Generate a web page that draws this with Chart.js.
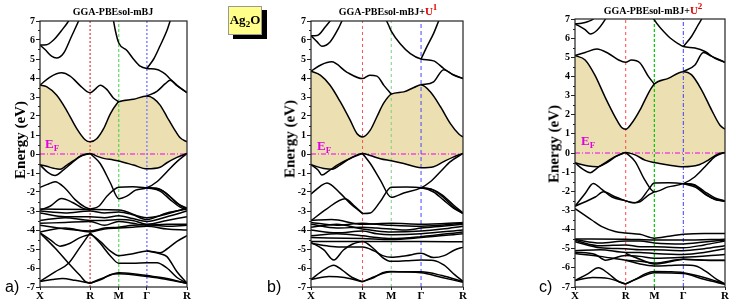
<!DOCTYPE html>
<html>
<head>
<meta charset="utf-8">
<script src="https://cdn.jsdelivr.net/npm/chart.js@4.4.1/dist/chart.umd.min.js"></script>
<style>
  body { margin: 0; background: #fff; width: 736px; height: 306px; position: relative; overflow: hidden; font-family: "Liberation Serif", serif; }
  canvas { position: absolute; left: 0; top: 0; }
  .title { position: absolute; font-weight: bold; font-size: 10px; white-space: nowrap; transform: translateX(-50%); }
  .title .red { color: #e00000; font-size: 11px; }
  .title sup { font-size: 9px; vertical-align: 5px; line-height: 0; }
  .ylab { position: absolute; font-weight: bold; font-size: 15px; white-space: nowrap; transform: translate(-50%, -50%) rotate(-90deg); }
  .ef { position: absolute; color: #e000e0; font-weight: bold; font-size: 13px; }
  .ef sub { font-size: 9px; vertical-align: -3px; line-height: 0; }
  .letter { position: absolute; font-family: "Liberation Sans", sans-serif; font-size: 16px; }
  .box { position: absolute; left: 228px; top: 6px; width: 32px; height: 27px; background: #ffff8a; border: 1px solid #999;
         box-shadow: 5px 4px 0 #000; font-weight: bold; font-size: 13px; text-align: center; line-height: 26px; }
  .box sub { font-size: 9px; vertical-align: -3px; line-height: 0; }
</style>
</head>
<body>
<canvas id="chartA" width="736" height="306"></canvas>
<canvas id="chartB" width="736" height="306"></canvas>
<canvas id="chartC" width="736" height="306"></canvas>

<div class="box">Ag<sub>2</sub>O</div>
<div class="title" style="left:113px;top:6px">GGA-PBEsol-mBJ</div>
<div class="title" style="left:388px;top:5px">GGA-PBEsol-mBJ+<span class="red">U<sup>1</sup></span></div>
<div class="title" style="left:653px;top:4px">GGA-PBEsol-mBJ+<span class="red">U<sup>2</sup></span></div>
<div class="ylab" style="left:20px;top:140px">Energy (eV)</div>
<div class="ylab" style="left:290px;top:139px">Energy (eV)</div>
<div class="ylab" style="left:554px;top:144px">Energy (eV)</div>
<div class="ef" style="left:45px;top:136px">E<sub>F</sub></div>
<div class="ef" style="left:317px;top:138px">E<sub>F</sub></div>
<div class="ef" style="left:581px;top:133px">E<sub>F</sub></div>
<div class="letter" style="left:5px;top:278px">a)</div>
<div class="letter" style="left:267px;top:278px">b)</div>
<div class="letter" style="left:539px;top:278px">c)</div>

<script>
// high-symmetry path labels
const kLabels = ["X", "R", "M", "\u0393", "R"];

// k positions of X, R, M, Γ, R in each panel (fraction of path)
const kA = [0, 0.341, 0.536, 0.727, 1];
const kB = [0, 0.339, 0.528, 0.724, 1];
const kC = [0, 0.338, 0.529, 0.722, 1];

// band points: [segment position (0=X,1=R,2=M,3=Γ,4=R), energy eV]
// ---------- panel a : GGA-PBEsol-mBJ ----------
const condA = [[0,3.63],[0.13,3.55],[0.33,3.1],[0.53,2.3],[0.73,1.35],[0.9,0.75],[1,0.64],[1.23,0.8],[1.47,1.33],[1.7,2.1],[1.93,2.65],[2,2.74],[2.52,2.88],[3,3.05],[3.17,2.92],[3.33,2.57],[3.5,1.96],[3.67,1.35],[3.83,0.85],[4,0.64]];
const valA = [[0,-0.57],[0.13,-0.65],[0.27,-0.75],[0.4,-0.8],[0.53,-0.6],[0.67,-0.35],[0.83,-0.08],[1,0.03],[1.23,-0.11],[1.47,-0.23],[1.81,-0.31],[2,-0.37],[2.52,-0.58],[3,-0.78],[3.33,-0.7],[3.5,-0.46],[3.75,-0.18],[4,0.03]];
const bandsA = [
  [[0,3.63],[0.2,4.05],[0.43,4.27],[0.6,4.1],[0.8,3.6],[0.93,3.3],[1,3.23],[1.17,3.4],[1.35,3.62],[1.58,3.4],[1.81,2.95],[2,2.74]],
  [[1.75,7.6],[1.88,6.5],[2,5.84],[2.29,5.45],[2.52,5.0],[2.76,4.62],[3,4.5],[3.25,4.45],[3.46,4.2],[3.58,3.95],[3.79,3.55],[4,3.23]],
  [[3,3.05],[3.25,3.3],[3.46,3.7],[3.58,3.88],[3.75,3.6],[4,3.23]],
  [[3,4.5],[3.17,5.0],[3.33,5.7],[3.5,6.5],[3.58,7],[3.67,7.5]],
  [[0,5.74],[0.13,5.75],[0.27,6.0],[0.43,6.5],[0.57,7],[0.65,7.4]],
  [[0,5.74],[0.1,5.5],[0.23,5.15],[0.33,5.05],[0.47,5.3],[0.63,6.2],[0.77,7],[0.85,7.5]],
  [[0,-0.57],[0.15,-0.95],[0.3,-1.13],[0.45,-0.88],[0.6,-0.55],[0.8,-0.14],[1,0.03]],
  [[1,0.03],[1.35,-0.5],[1.7,-1.5],[2,-2.35],[2.3,-2.2],[2.6,-1.9],[3,-1.78],[3.25,-1.46],[3.5,-0.93],[3.75,-0.4],[4,0.03]],
  [[1,-2.9],[1.3,-2.75],[1.6,-2.2],[2,-1.75],[2.5,-1.72],[3,-1.78],[3.33,-1.87],[3.58,-2.25],[3.83,-2.7],[4,-2.9]],
  [[3,-1.78],[3.33,-1.95],[3.58,-2.4],[3.83,-2.8],[4,-2.95]],
  [[3,-1.78],[3.25,-1.8],[3.5,-2.1],[3.75,-2.6],[4,-2.85]],
  [[0,-1.76],[0.15,-1.6],[0.3,-1.46],[0.5,-1.8],[0.7,-2.4],[0.9,-2.8],[1,-2.9]],
  [[0,-2.95],[0.2,-2.75],[0.43,-2.34],[0.65,-2.55],[0.85,-2.85],[1,-2.95]],
  [[0,-2.9],[1,-2.92],[2,-2.95],[3,-3.35],[4,-2.85]],
  [[0,-3.0],[0.5,-3.1],[1,-3.0],[1.5,-3.1],[2,-3.05],[2.5,-3.2],[3,-3.45],[3.5,-3.1],[4,-2.9]],
  [[0,-3.1],[0.5,-3.3],[1,-3.3],[1.5,-3.35],[2,-3.25],[2.5,-3.4],[3,-3.55],[3.5,-3.3],[4,-3.0]],
  [[0,-3.5],[0.5,-3.35],[1,-3.5],[1.5,-3.5],[2,-3.45],[2.5,-3.5],[3,-3.7],[3.5,-3.5],[4,-3.3]],
  [[0,-3.65],[0.5,-3.6],[1,-3.55],[1.5,-3.75],[2,-3.55],[2.5,-3.65],[3,-3.75],[3.5,-3.7],[4,-3.7]],
  [[0,-3.75],[0.5,-3.95],[1,-4.05],[1.5,-3.9],[2,-3.85],[2.5,-3.75],[3,-3.72],[3.5,-3.8],[4,-3.75]],
  [[0,-4.1],[0.5,-3.9],[1,-4.1],[1.5,-3.95],[2,-3.9],[2.5,-3.85],[3,-3.8],[3.5,-3.95],[4,-4.0]],
  [[0,-4.15],[0.2,-4.5],[0.4,-4.85],[0.6,-4.7],[0.8,-4.4],[1,-4.25],[1.35,-4.6],[1.7,-5.1],[2,-5.35],[2.5,-5.25],[3,-5.1],[3.33,-5.2],[3.5,-5.0],[3.75,-4.6],[4,-4.3]],
  [[3,-5.1],[3.33,-5.25],[3.5,-5.4],[3.75,-6.2],[4,-6.8]],
  [[0,-4.15],[0.3,-4.95],[0.57,-5.75],[0.8,-6.4],[0.9,-6.7],[1,-6.8]],
  [[0,-6.7],[0.3,-6.2],[0.57,-5.75],[0.8,-4.9],[1,-4.15]],
  [[0,-6.7],[0.25,-6.6],[0.45,-6.55],[0.7,-6.65],[1,-6.8]],
  [[1,-4.15],[1.35,-4.7],[1.7,-5.35],[2,-5.75],[2.5,-5.75],[3,-5.72],[3.25,-5.72],[3.5,-6.0],[3.75,-6.5],[4,-6.8]],
  [[1,-6.8],[1.4,-6.6],[1.7,-6.35],[2,-6.3],[2.5,-6.35],[3,-6.45],[3.5,-6.6],[4,-6.8]],
  [[1,-6.8],[1.5,-6.5],[2,-6.25],[2.5,-6.3],[3,-6.4],[3.5,-6.55],[4,-6.82]]
];

// ---------- panel b : GGA-PBEsol-mBJ+U1 ----------
const condB = [[0,4.36],[0.18,4.15],[0.37,3.62],[0.57,2.74],[0.76,1.78],[0.89,1.08],[1,0.9],[1.27,1.26],[1.5,1.96],[1.73,2.66],[2,3.15],[2.42,3.27],[2.76,3.5],[3,3.64],[3.22,3.27],[3.46,2.5],[3.7,1.6],[3.9,1.05],[4,0.9]];
const valB = [[0,-0.57],[0.25,-0.76],[0.41,-0.8],[0.57,-0.57],[0.76,-0.23],[1,0.03],[1.27,-0.08],[1.62,-0.25],[2,-0.36],[2.42,-0.5],[3,-0.72],[3.3,-0.67],[3.54,-0.4],[3.78,-0.15],[4,0.03]];
const bandsB = [
  [[0,4.36],[0.2,4.7],[0.4,4.85],[0.7,4.3],[1,3.97],[1.25,4.15],[1.5,4.1],[1.75,3.6],[2,3.15]],
  [[1.75,7.3],[1.9,6.8],[2,6.47],[2.3,5.8],[2.64,5.28],[3,5.0],[3.3,4.9],[3.54,4.5],[3.78,4.15],[4,3.97]],
  [[3,3.64],[3.3,3.8],[3.54,4.44],[3.74,4.2],[4,3.97]],
  [[3,5.0],[3.14,5.65],[3.3,6.35],[3.42,7],[3.5,7.4]],
  [[0,6.23],[0.12,6.24],[0.28,6.7],[0.37,7],[0.45,7.3]],
  [[0,6.23],[0.12,5.9],[0.21,5.67],[0.37,5.9],[0.53,6.6],[0.6,7],[0.7,7.5]],
  [[0,-0.57],[0.14,-0.85],[0.21,-1.11],[0.34,-0.9],[0.5,-0.6],[0.75,-0.25],[1,0.03]],
  [[1,0.03],[1.27,-0.5],[1.62,-1.37],[2,-2.28],[2.42,-2.05],[3,-1.78],[3.22,-1.46],[3.46,-0.93],[3.7,-0.4],[4,0.03]],
  [[1,-3.13],[1.27,-3.1],[1.62,-2.5],[2,-1.75],[2.5,-1.74],[3,-1.78],[3.3,-2.0],[3.54,-2.43],[3.78,-2.86],[4,-3.13]],
  [[3,-1.78],[3.3,-1.9],[3.54,-2.3],[3.78,-2.8],[4,-3.13]],
  [[3,-1.78],[3.25,-1.85],[3.5,-2.15],[3.78,-2.7],[4,-3.1]],
  [[0,-2.11],[0.18,-1.7],[0.31,-1.52],[0.57,-2.07],[0.76,-2.6],[1,-3.13]],
  [[0,-3.51],[0.3,-2.9],[0.66,-2.35],[0.85,-2.75],[1,-3.13]],
  [[0,-3.5],[0.4,-3.45],[1,-3.7],[2,-3.65],[3,-3.7],[4,-3.6]],
  [[0,-3.6],[0.5,-3.75],[1,-3.65],[1.5,-3.7],[2,-3.75],[3,-3.8],[4,-3.65]],
  [[0,-3.7],[0.5,-3.9],[1,-3.85],[1.5,-3.9],[2,-3.95],[2.5,-4.0],[3,-3.9],[3.5,-3.8],[4,-3.7]],
  [[0,-3.85],[0.5,-3.7],[1,-3.95],[1.5,-4.05],[2,-4.1],[3,-4.05],[3.5,-3.95],[4,-3.8]],
  [[0,-4.0],[0.5,-4.15],[1,-4.05],[1.5,-4.2],[2,-4.25],[3,-4.2],[4,-4.0]],
  [[0,-4.3],[0.5,-4.2],[1,-4.3],[1.5,-4.4],[2,-4.45],[3,-4.35],[4,-4.1]],
  [[0,-4.4],[1,-4.45],[2,-4.5],[3,-4.4],[4,-4.2]],
  [[0,-4.6],[1,-4.6],[2,-4.6],[3,-4.6],[4,-4.62]],
  [[0,-4.65],[0.25,-5.05],[0.44,-5.58],[0.63,-5.05],[0.8,-4.75],[1,-4.6],[1.4,-5.0],[1.7,-5.45],[2,-5.65],[2.5,-5.62],[3,-5.58],[3.3,-5.6],[3.55,-5.85],[3.8,-6.35],[4,-6.7]],
  [[0,-4.7],[0.35,-4.85],[0.7,-4.9],[1,-4.9],[1.4,-5.1],[1.7,-5.35],[2,-5.44],[2.5,-5.35],[3,-5.23],[3.3,-5.45],[3.55,-5.35],[3.8,-5.05],[4,-4.9]],
  [[0,-6.6],[0.25,-6.1],[0.44,-5.85],[0.6,-6.1],[0.8,-6.5],[1,-6.72]],
  [[0,-6.6],[0.35,-6.45],[0.65,-6.5],[1,-6.72]],
  [[1,-6.72],[1.4,-6.5],[1.7,-6.25],[2,-6.19],[2.5,-6.2],[3,-6.2],[3.5,-6.4],[4,-6.72]],
  [[1,-6.72],[1.5,-6.4],[2,-6.2],[3,-6.25],[3.5,-6.5],[4,-6.75]]
];

// ---------- panel c : GGA-PBEsol-mBJ+U2 ----------
const condC = [[0,5.09],[0.2,4.86],[0.39,4.08],[0.59,2.94],[0.79,1.89],[0.92,1.33],[1,1.24],[1.21,1.55],[1.5,2.25],[1.79,3.12],[2,3.6],[2.48,3.9],[3,4.25],[3.2,4.08],[3.44,3.29],[3.68,2.24],[3.88,1.45],[4,1.24]];
const valC = [[0,-0.51],[0.26,-0.68],[0.43,-0.72],[0.63,-0.5],[0.82,-0.16],[1,0.03],[1.33,-0.1],[1.67,-0.37],[2,-0.5],[2.48,-0.63],[3,-0.72],[3.36,-0.63],[3.6,-0.37],[3.84,-0.05],[4,0.03]];
const bandsC = [
  [[0,5.09],[0.2,5.25],[0.43,5.43],[0.66,5.2],[0.86,4.86],[1,4.74],[1.2,4.86],[1.5,4.7],[1.79,4.0],[2,3.6]],
  [[1.85,7.4],[2,6.95],[2.48,6.1],[2.83,5.7],[3,5.56],[3.28,5.48],[3.52,5.3],[3.76,4.95],[4,4.74]],
  [[3,4.25],[3.28,4.6],[3.48,5.25],[3.68,5.05],[4,4.74]],
  [[3,5.56],[3.2,6.1],[3.36,6.7],[3.44,7],[3.52,7.4]],
  [[0,6.75],[0.13,6.78],[0.26,6.87],[0.36,7],[0.45,7.3]],
  [[0,6.75],[0.2,6.44],[0.3,6.22],[0.43,6.4],[0.59,6.95],[0.66,7.3]],
  [[0,-0.51],[0.16,-0.86],[0.3,-1.03],[0.43,-0.8],[0.6,-0.5],[0.8,-0.18],[1,0.03]],
  [[1,0.03],[1.33,-0.45],[1.67,-1.42],[2,-2.03],[2.48,-1.77],[3,-1.6],[3.28,-1.24],[3.52,-0.72],[3.76,-0.19],[4,0.03]],
  [[1,-2.5],[1.3,-2.6],[1.55,-2.4],[1.8,-1.9],[2,-1.57],[2.5,-1.56],[3,-1.6],[3.28,-1.7],[3.52,-2.12],[3.76,-2.43],[4,-2.5]],
  [[3,-1.6],[3.3,-1.8],[3.55,-2.2],[3.8,-2.45],[4,-2.52]],
  [[3,-1.6],[3.25,-1.65],[3.5,-2.0],[3.76,-2.35],[4,-2.5]],
  [[1,-2.5],[1.25,-2.6],[1.5,-2.55],[1.75,-2.25],[2,-2.03]],
  [[0,-2.78],[0.2,-2.12],[0.36,-1.59],[0.53,-1.9],[0.73,-2.3],[1,-2.5]],
  [[0,-2.78],[0.4,-2.3],[0.56,-2.03],[0.8,-2.3],[1,-2.5]],
  [[0,-2.9],[0.33,-3.5],[0.53,-3.85],[0.79,-4.1],[1,-4.18],[1.5,-4.25],[2,-4.45],[2.5,-4.35],[3,-4.25],[3.5,-4.2],[4,-4.2]],
  [[0,-4.49],[1,-4.5],[2,-4.55],[3,-4.55],[4,-4.5]],
  [[0,-4.52],[0.5,-4.7],[1,-4.6],[1.5,-4.6],[2,-4.7],[3,-4.75],[3.5,-4.65],[4,-4.55]],
  [[0,-4.57],[0.5,-4.85],[1,-4.8],[1.5,-4.9],[2,-4.9],[3,-4.95],[3.5,-4.8],[4,-4.6]],
  [[0,-4.63],[0.5,-4.95],[1,-5.0],[1.5,-5.05],[2,-5.05],[3,-5.1],[3.5,-5.0],[4,-4.85]],
  [[0,-5.1],[0.5,-5.05],[1,-5.2],[1.5,-5.2],[2,-5.25],[3,-5.3],[3.5,-5.2],[4,-5.0]],
  [[0,-5.18],[0.4,-5.3],[0.6,-5.6],[1,-5.35],[1.5,-5.4],[2,-5.5],[3,-5.45],[4,-5.3]],
  [[0,-5.25],[0.5,-5.4],[1,-5.6],[1.5,-5.65],[2,-5.75],[3,-5.55],[3.5,-5.6],[4,-5.6]],
  [[1,-5.25],[1.5,-5.55],[2,-5.8],[2.5,-5.7],[3,-5.55],[3.5,-5.6],[4,-5.62]],
  [[1,-5.6],[1.5,-5.8],[2,-5.9],[2.5,-5.88],[3,-5.85],[3.3,-5.9],[3.55,-6.2],[3.8,-6.6],[4,-6.84]],
  [[0,-6.66],[0.26,-6.3],[0.46,-6.0],[0.66,-6.3],[0.85,-6.7],[1,-6.84]],
  [[0,-6.66],[0.35,-6.5],[0.65,-6.55],[1,-6.84]],
  [[1,-6.84],[1.4,-6.55],[1.7,-6.3],[2,-6.19],[2.5,-6.2],[3,-6.25],[3.5,-6.5],[4,-6.84]],
  [[1,-6.84],[1.5,-6.5],[2,-6.25],[3,-6.3],[3.5,-6.6],[4,-6.86]]
];

const GAP_FILL = "rgb(236,224,178)";

// segment position -> k value along the path
function toXY(points, nodes) {
  return points.map(([s, e]) => {
    const i = Math.min(Math.floor(s), 3);
    const f = s - i;
    return { x: nodes[i] + f * (nodes[i + 1] - nodes[i]), y: e };
  });
}

function bandSet(points, nodes, extra) {
  return Object.assign({
    data: toXY(points, nodes),
    borderColor: "#000",
    borderWidth: 1.5,
    pointRadius: 0,
    cubicInterpolationMode: "monotone",
    fill: false,
  }, extra || {});
}

// frame + minor ticks
const framePlugin = {
  id: "frame",
  afterDraw(chart) {
    const { ctx, chartArea: a, scales } = chart;
    ctx.save();
    ctx.strokeStyle = "#222";
    ctx.lineWidth = 1.2;
    ctx.strokeRect(a.left, a.top, a.right - a.left, a.bottom - a.top);
    ctx.lineWidth = 1;
    for (let v = -6.5; v < 7; v += 1) {
      const y = Math.round(scales.y.getPixelForValue(v)) + 0.5;
      ctx.beginPath();
      ctx.moveTo(a.left - 2, y);
      ctx.lineTo(a.left, y);
      ctx.stroke();
    }
    ctx.restore();
  },
};

function makeChart(id, nodes, cond, val, bands, area, guides) {
  const yW = 30, xH = 18;
  const datasets = [
    bandSet(cond, nodes, { fill: 1, backgroundColor: GAP_FILL }),
    bandSet(val, nodes),
  ];
  bands.forEach((b) => datasets.push(bandSet(b, nodes)));
  // Fermi level
  datasets.push({
    data: [{ x: 0, y: 0 }, { x: 1, y: 0 }],
    borderColor: "#ee00ee", borderWidth: 1, borderDash: [5, 2, 1, 2],
    pointRadius: 0, fill: false,
  });
  // vertical lines at R, M, Γ
  guides.forEach((g, i) => {
    const k = nodes[i + 1];
    datasets.push({
      data: [{ x: k, y: -7 }, { x: k, y: 7 }],
      borderColor: g.color, borderWidth: g.width, borderDash: g.dash,
      pointRadius: 0, fill: false,
    });
  });

  return new Chart(document.getElementById(id), {
    type: "line",
    data: { datasets },
    options: {
      responsive: false,
      animation: false,
      events: [],
      layout: {
        padding: {
          left: area.left - yW,
          right: 736 - area.right,
          top: area.top,
          bottom: 306 - area.bottom - xH,
        },
      },
      plugins: {
        legend: { display: false },
        tooltip: { enabled: false },
        filler: { drawTime: "beforeDatasetsDraw" },
      },
      scales: {
        x: {
          type: "linear",
          min: 0,
          max: 1,
          afterFit: (s) => { s.height = xH; },
          afterBuildTicks: (s) => { s.ticks = nodes.map((v) => ({ value: v })); },
          grid: { drawOnChartArea: false, tickLength: 3, color: "#222" },
          border: { display: false },
          ticks: {
            autoSkip: false,
            maxRotation: 0,
            padding: 0,
            color: "#000",
            font: { family: "Liberation Serif", weight: "bold", size: 11 },
            callback: (v, i) => kLabels[i],
          },
        },
        y: {
          min: -7,
          max: 7,
          afterFit: (s) => { s.width = yW; },
          grid: { drawOnChartArea: false, tickLength: 4, color: "#222" },
          border: { display: false },
          ticks: {
            stepSize: 1,
            padding: 1,
            color: "#000",
            font: { family: "Liberation Serif", weight: "bold", size: 10 },
          },
        },
      },
    },
    plugins: [framePlugin],
  });
}

makeChart("chartA", kA, condA, valA, bandsA,
  { left: 40, right: 187, top: 21, bottom: 287 },
  [
    { color: "rgb(235,105,105)", width: 1.6, dash: [2, 2] },
    { color: "rgb(60,210,60)", width: 1, dash: [3, 2] },
    { color: "rgb(140,140,255)", width: 1.6, dash: [2, 2] },
  ]);

makeChart("chartB", kB, condB, valB, bandsB,
  { left: 311, right: 463, top: 21, bottom: 287 },
  [
    { color: "rgb(255,80,80)", width: 1, dash: [3, 3] },
    { color: "rgb(120,210,120)", width: 1, dash: [3, 3] },
    { color: "rgb(70,70,255)", width: 1, dash: [4, 3] },
  ]);

makeChart("chartC", kC, condC, valC, bandsC,
  { left: 575, right: 725, top: 19, bottom: 287 },
  [
    { color: "rgb(255,70,70)", width: 1, dash: [3, 3] },
    { color: "rgb(0,200,0)", width: 1.2, dash: [3, 2] },
    { color: "rgb(60,60,255)", width: 1, dash: [4, 2, 1, 2] },
  ]);
</script>
</body>
</html>
